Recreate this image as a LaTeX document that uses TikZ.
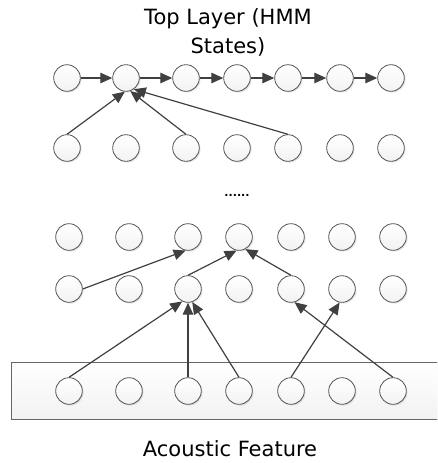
\documentclass[tikz,border=0pt]{standalone}
\usepackage{fontspec}
\setmainfont{DejaVu Sans}
\usetikzlibrary{arrows.meta,shadows}
\definecolor{edge}{HTML}{404040}
\definecolor{ring}{HTML}{555555}
\begin{document}
\begin{tikzpicture}[x=1pt,y=-1pt,
  neuron/.style={circle, minimum size=26.6pt, inner sep=0pt, draw=ring, line width=0.8pt,
    top color=white, bottom color=black!5,
    drop shadow={shadow xshift=1.3pt, shadow yshift=-1.3pt, opacity=0.2}},
  arr/.style={draw=edge, line width=1.2pt, -{Triangle[length=12pt,width=10.5pt]}},
  lbl/.style={font=\fontsize{21}{29}\selectfont, inner sep=0pt, align=center},
  panel/.style={draw=black!60, line width=0.8pt, top color=white, bottom color=black!5,
    drop shadow={shadow xshift=1.3pt, shadow yshift=-1.3pt, opacity=0.2}}]
\useasboundingbox (0,0) rectangle (437,463);
\clip (0,0) rectangle (437,463);

% titles
\node[lbl, anchor=base] (title) at (228,53) {Top Layer (HMM\\States)};
\node[lbl, anchor=base] (feat) at (230,456) {Acoustic Feature};
\node[inner sep=0pt, font=\fontsize{11}{11}\selectfont\bfseries] (dots) at (237,195) {......};

% acoustic panel
\draw[panel] (11,362) rectangle (450,419);

% rows
\foreach \x [count=\i] in {67,126,186,237,288,340,391} {
  \node[neuron] (t\i) at (\x,78) {};
  \node[neuron] (h\i) at (\x,148) {};
}
\foreach \x [count=\i] in {69,129,188,239,291,342,393} {
  \node[neuron] (m\i) at (\x,237) {};
  \node[neuron] (n\i) at (\x,289) {};
  \node[neuron] (b\i) at (\x,391) {};
}

% top chain
\foreach \i [evaluate=\i as \j using int(\i+1)] in {1,...,6} {
  \draw[arr] (t\i) -- (t\j);
}

% second row to top
\draw[arr] (h1.north) -- (t2.-95);
\draw[arr] (h3.north) -- (t2.-72);
\draw[arr] (h5.north) -- (t2.-55);

% n row to m row
\draw[arr] (n1.east) -- (m3.-100);
\draw[arr] (n3.north) -- (m4.-100);
\draw[arr] (n5.north) -- (m4.-62);

% bottom to n row
\draw[arr] (b1.north) -- (n3.-115);
\draw[arr] (b3.north) -- (n3.south);
\draw[arr] (b4.north) -- (n3.-72);
\draw[arr] (b5.north) -- (n6.-100);
\draw[arr] (b7.north) -- (n5.-75);
\end{tikzpicture}
\end{document}
